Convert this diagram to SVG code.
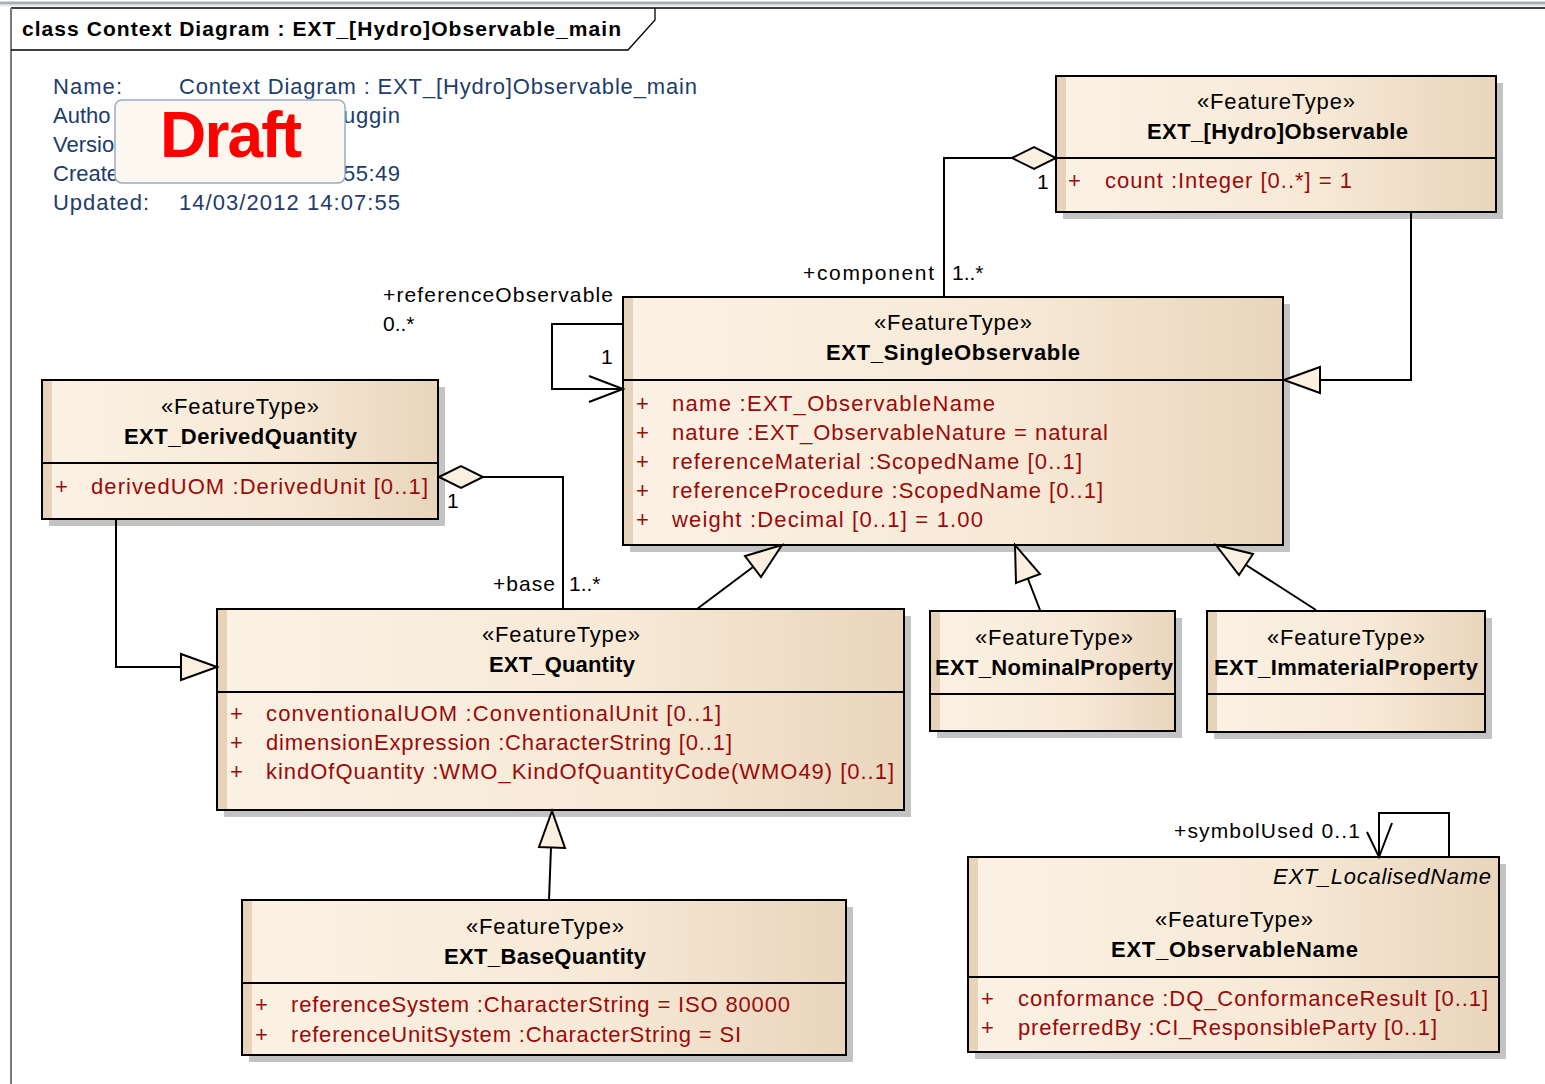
<svg xmlns="http://www.w3.org/2000/svg" width="1545" height="1084" viewBox="0 0 1545 1084">
  <style>
    text { font-family: "Liberation Sans", Arial, sans-serif; font-size: 22px; fill: #000; }
    .hdr { font-weight: bold; font-size: 21px; }
    .info { fill: #1d3c6b; }
    .st { font-size: 22px; }
    .nm { font-weight: bold; font-size: 22px; }
    .attr { fill: #9a0a0a; }
    .lbl { font-size: 21px; }
    .it { font-style: italic; }
    .shadow { fill: #c3c3c3; }
    .body { fill: url(#nodeFill); }
    .strip { fill: #e6d3b9; }
    .frame { fill: none; stroke: #000; stroke-width: 2; }
    .sep { stroke: #000; stroke-width: 2; }
    .conn { fill: none; stroke: #000; stroke-width: 2; }
    .head { fill: #fbefe0; stroke: #000; stroke-width: 2; stroke-linejoin: miter; }
  </style>
  <defs>
    <linearGradient id="nodeFill" x1="0" y1="0" x2="1" y2="0">
      <stop offset="0" stop-color="#fbf1e4"/>
      <stop offset="0.6" stop-color="#f7e9d6"/>
      <stop offset="1" stop-color="#e8d5bc"/>
    </linearGradient>
  </defs>

  <rect x="0" y="0" width="1545" height="1084" fill="#fff"/>

  <!-- diagram frame -->
  <g id="frame">
    <rect x="0" y="1.5" width="1545" height="3" fill="#a9aeb1"/>
    <line x1="0" y1="5.8" x2="1545" y2="5.8" stroke="#dadcdd" stroke-width="1"/>
    <line x1="11" y1="8" x2="1545" y2="8" stroke="#000" stroke-width="1.6"/>
    <line x1="11" y1="8" x2="11" y2="1084" stroke="#7a7a7a" stroke-width="2"/>
    <path d="M11,50 H628 L655,20 V8" fill="none" stroke="#000" stroke-width="1.3"/>
    <text class="hdr" x="22" y="36" textLength="599">class Context Diagram : EXT_[Hydro]Observable_main</text>
  </g>

  <!-- diagram properties -->
  <g id="info">
    <text class="info" x="53" y="94" textLength="69">Name:</text>
    <text class="info" x="179" y="94" textLength="518">Context Diagram : EXT_[Hydro]Observable_main</text>
    <text class="info" x="53" y="123">Autho</text>
    <text class="info" x="343" y="123" textLength="57">uggin</text>
    <text class="info" x="53" y="152">Versio</text>
    <text class="info" x="53" y="181">Create</text>
    <text class="info" x="343" y="181" textLength="57">55:49</text>
    <text class="info" x="53" y="210" textLength="96">Updated:</text>
    <text class="info" x="179" y="210" textLength="221">14/03/2012 14:07:55</text>
  </g>

  <!-- draft stamp -->
  <g id="draft">
    <rect x="115" y="100" width="230" height="83" rx="7" fill="#fdf8ef" stroke="#9aaac8" stroke-width="1.5"/>
    <text x="160" y="157" font-weight="bold" style="fill:#ff0000;font-size:64px" textLength="142">Draft</text>
  </g>

  <!-- EXT_[Hydro]Observable -->
  <g id="node-hydro-observable">
    <rect class="shadow" x="1063" y="83" width="440" height="136"/>
    <rect class="body" x="1056" y="76" width="440" height="136"/>
    <rect class="strip" x="1057" y="77" width="9" height="134"/>
    <rect class="frame" x="1056" y="76" width="440" height="136"/>
    <line class="sep" x1="1056" y1="158" x2="1496" y2="158"/>
    <text class="st" x="1197" y="109" textLength="158">«FeatureType»</text>
    <text class="nm" x="1147" y="139" textLength="261">EXT_[Hydro]Observable</text>
    <text class="attr" x="1068" y="188">+</text>
    <text class="attr" x="1105" y="188" textLength="247">count  :Integer [0..*] = 1</text>
  </g>

  <!-- EXT_SingleObservable -->
  <g id="node-single-observable">
    <rect class="shadow" x="630" y="304" width="660" height="248"/>
    <rect class="body" x="623" y="297" width="660" height="248"/>
    <rect class="strip" x="624" y="298" width="9" height="246"/>
    <rect class="frame" x="623" y="297" width="660" height="248"/>
    <line class="sep" x1="623" y1="380" x2="1283" y2="380"/>
    <text class="st" x="874" y="330" textLength="158">«FeatureType»</text>
    <text class="nm" x="826" y="360" textLength="254">EXT_SingleObservable</text>
    <text class="attr" x="636" y="411">+</text>
    <text class="attr" x="672" y="411" textLength="323">name  :EXT_ObservableName</text>
    <text class="attr" x="636" y="440">+</text>
    <text class="attr" x="672" y="440" textLength="436">nature  :EXT_ObservableNature = natural</text>
    <text class="attr" x="636" y="469">+</text>
    <text class="attr" x="672" y="469" textLength="410">referenceMaterial  :ScopedName [0..1]</text>
    <text class="attr" x="636" y="498">+</text>
    <text class="attr" x="672" y="498" textLength="431">referenceProcedure  :ScopedName [0..1]</text>
    <text class="attr" x="636" y="527">+</text>
    <text class="attr" x="672" y="527" textLength="311">weight  :Decimal [0..1] = 1.00</text>
  </g>

  <!-- EXT_DerivedQuantity -->
  <g id="node-derived-quantity">
    <rect class="shadow" x="49" y="387" width="396" height="139"/>
    <rect class="body" x="42" y="380" width="396" height="139"/>
    <rect class="strip" x="43" y="381" width="9" height="137"/>
    <rect class="frame" x="42" y="380" width="396" height="139"/>
    <line class="sep" x1="42" y1="463" x2="438" y2="463"/>
    <text class="st" x="161" y="414" textLength="158">«FeatureType»</text>
    <text class="nm" x="124" y="444" textLength="233">EXT_DerivedQuantity</text>
    <text class="attr" x="55" y="494">+</text>
    <text class="attr" x="91" y="494" textLength="337">derivedUOM  :DerivedUnit [0..1]</text>
  </g>

  <!-- EXT_Quantity -->
  <g id="node-quantity">
    <rect class="shadow" x="224" y="616" width="687" height="201"/>
    <rect class="body" x="217" y="609" width="687" height="201"/>
    <rect class="strip" x="218" y="610" width="9" height="199"/>
    <rect class="frame" x="217" y="609" width="687" height="201"/>
    <line class="sep" x1="217" y1="692" x2="904" y2="692"/>
    <text class="st" x="482" y="642" textLength="158">«FeatureType»</text>
    <text class="nm" x="489" y="672" textLength="146">EXT_Quantity</text>
    <text class="attr" x="230" y="721">+</text>
    <text class="attr" x="266" y="721" textLength="455">conventionalUOM  :ConventionalUnit [0..1]</text>
    <text class="attr" x="230" y="750">+</text>
    <text class="attr" x="266" y="750" textLength="466">dimensionExpression  :CharacterString [0..1]</text>
    <text class="attr" x="230" y="779">+</text>
    <text class="attr" x="266" y="779" textLength="628">kindOfQuantity  :WMO_KindOfQuantityCode(WMO49) [0..1]</text>
  </g>

  <!-- EXT_NominalProperty -->
  <g id="node-nominal-property">
    <rect class="shadow" x="937" y="618" width="245" height="120"/>
    <rect class="body" x="930" y="611" width="245" height="120"/>
    <rect class="strip" x="931" y="612" width="9" height="118"/>
    <rect class="frame" x="930" y="611" width="245" height="120"/>
    <line class="sep" x1="930" y1="694" x2="1175" y2="694"/>
    <text class="st" x="975" y="645" textLength="158">«FeatureType»</text>
    <text class="nm" x="935" y="675" textLength="238">EXT_NominalProperty</text>
  </g>

  <!-- EXT_ImmaterialProperty -->
  <g id="node-immaterial-property">
    <rect class="shadow" x="1214" y="618" width="278" height="121"/>
    <rect class="body" x="1207" y="611" width="278" height="121"/>
    <rect class="strip" x="1208" y="612" width="9" height="119"/>
    <rect class="frame" x="1207" y="611" width="278" height="121"/>
    <line class="sep" x1="1207" y1="694" x2="1485" y2="694"/>
    <text class="st" x="1267" y="645" textLength="158">«FeatureType»</text>
    <text class="nm" x="1214" y="675" textLength="264">EXT_ImmaterialProperty</text>
  </g>

  <!-- EXT_BaseQuantity -->
  <g id="node-base-quantity">
    <rect class="shadow" x="249" y="907" width="604" height="155"/>
    <rect class="body" x="242" y="900" width="604" height="155"/>
    <rect class="strip" x="243" y="901" width="9" height="153"/>
    <rect class="frame" x="242" y="900" width="604" height="155"/>
    <line class="sep" x1="242" y1="983" x2="846" y2="983"/>
    <text class="st" x="466" y="934" textLength="158">«FeatureType»</text>
    <text class="nm" x="444" y="964" textLength="202">EXT_BaseQuantity</text>
    <text class="attr" x="255" y="1012">+</text>
    <text class="attr" x="291" y="1012" textLength="499">referenceSystem  :CharacterString = ISO 80000</text>
    <text class="attr" x="255" y="1042">+</text>
    <text class="attr" x="291" y="1042" textLength="450">referenceUnitSystem  :CharacterString = SI</text>
  </g>

  <!-- EXT_ObservableName -->
  <g id="node-observable-name">
    <rect class="shadow" x="975" y="864" width="531" height="195"/>
    <rect class="body" x="968" y="857" width="531" height="195"/>
    <rect class="strip" x="969" y="858" width="9" height="193"/>
    <rect class="frame" x="968" y="857" width="531" height="195"/>
    <line class="sep" x1="968" y1="977" x2="1499" y2="977"/>
    <text class="it" x="1273" y="884" textLength="218">EXT_LocalisedName</text>
    <text class="st" x="1155" y="927" textLength="158">«FeatureType»</text>
    <text class="nm" x="1111" y="957" textLength="247">EXT_ObservableName</text>
    <text class="attr" x="981" y="1006">+</text>
    <text class="attr" x="1018" y="1006" textLength="470">conformance  :DQ_ConformanceResult [0..1]</text>
    <text class="attr" x="981" y="1035">+</text>
    <text class="attr" x="1018" y="1035" textLength="419">preferredBy  :CI_ResponsibleParty [0..1]</text>
  </g>

  <!-- connectors -->
  <g id="connectors">
    <!-- component aggregation -->
    <polyline class="conn" points="944,297 944,158 1012,158"/>
    <polygon class="head" points="1012,158 1034,147 1056,158 1034,169"/>
    <text class="lbl" x="1037" y="189">1</text>
    <text class="lbl" x="803" y="280" textLength="131">+component</text>
    <text class="lbl" x="952" y="280">1..*</text>

    <!-- SingleObservable specialises [Hydro]Observable -->
    <polyline class="conn" points="1411,212 1411,380 1320,380"/>
    <polygon class="head" points="1284,380 1320,367 1320,393"/>

    <!-- referenceObservable self association -->
    <polyline class="conn" points="623,324 552,324 552,389 623,389"/>
    <polyline class="conn" points="589,376 623,389 589,402"/>
    <text class="lbl" x="383" y="302" textLength="230">+referenceObservable</text>
    <text class="lbl" x="383" y="331">0..*</text>
    <text class="lbl" x="601" y="364">1</text>

    <!-- base aggregation -->
    <polyline class="conn" points="483,477 563,477 563,609"/>
    <polygon class="head" points="439,477 461,466 483,477 461,488"/>
    <text class="lbl" x="447" y="508">1</text>
    <text class="lbl" x="493" y="591" textLength="62">+base</text>
    <text class="lbl" x="569" y="591">1..*</text>

    <!-- DerivedQuantity specialises Quantity -->
    <polyline class="conn" points="116,519 116,667 181,667"/>
    <polygon class="head" points="217,667 181,654 181,680"/>

    <!-- Quantity specialises SingleObservable -->
    <line class="conn" x1="697" y1="609" x2="753" y2="567"/>
    <polygon class="head" points="782,545 761,577 745,556"/>

    <!-- NominalProperty specialises SingleObservable -->
    <line class="conn" x1="1040" y1="610" x2="1028" y2="579"/>
    <polygon class="head" points="1015,545 1040,574 1016,583"/>

    <!-- ImmaterialProperty specialises SingleObservable -->
    <line class="conn" x1="1316" y1="610" x2="1246" y2="565"/>
    <polygon class="head" points="1216,545 1253,554 1239,575"/>

    <!-- BaseQuantity specialises Quantity -->
    <line class="conn" x1="549" y1="900" x2="551" y2="847"/>
    <polygon class="head" points="552,811 539,847 565,848"/>

    <!-- symbolUsed self association -->
    <polyline class="conn" points="1379,857 1379,813 1449,813 1449,857"/>
    <polyline class="conn" points="1367,832 1379,857 1392,823"/>
    <text class="lbl" x="1174" y="838" textLength="186">+symbolUsed 0..1</text>
  </g>
</svg>
